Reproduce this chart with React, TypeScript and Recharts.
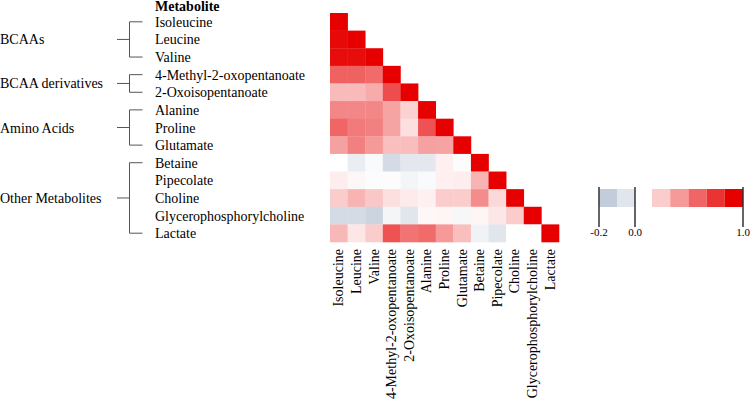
import { ScatterChart, Scatter, XAxis, YAxis } from 'recharts';

// metabolites in matrix order
const metabolites = [
  'Isoleucine', 'Leucine', 'Valine', '4-Methyl-2-oxopentanoate', '2-Oxoisopentanoate',
  'Alanine', 'Proline', 'Glutamate', 'Betaine', 'Pipecolate', 'Choline',
  'Glycerophosphorylcholine', 'Lactate',
];

const groups = [
  { name: 'BCAAs', from: 0, to: 2 },
  { name: 'BCAA derivatives', from: 3, to: 4 },
  { name: 'Amino Acids', from: 5, to: 7 },
  { name: 'Other Metabolites', from: 8, to: 12 },
];

// lower triangle of the correlation matrix, row by row
const corr = [
  [1],
  [0.97, 1],
  [0.95, 0.95, 1],
  [0.62, 0.62, 0.58, 1],
  [0.27, 0.27, 0.33, 0.7, 1],
  [0.47, 0.47, 0.47, 0.36, 0.18, 1],
  [0.6, 0.52, 0.5, 0.36, 0.12, 0.68, 1],
  [0.37, 0.5, 0.4, 0.25, 0.26, 0.37, 0.36, 1],
  [0.0, -0.07, -0.02, -0.14, -0.09, -0.09, 0.06, -0.01, 1],
  [0.07, 0.03, -0.01, -0.01, -0.04, -0.02, 0.06, 0.07, 0.3, 1],
  [0.2, 0.3, 0.22, 0.12, 0.08, 0.06, 0.2, 0.2, 0.45, 0.15, 1],
  [-0.14, -0.14, -0.17, -0.04, -0.1, 0.03, 0.04, -0.03, 0.04, 0.1, 0.2, 1],
  [0.28, 0.1, 0.2, 0.68, 0.55, 0.58, 0.4, 0.25, -0.05, -0.1, 0.0, 0.0, 1],
];

const negLegend = [-0.2, -0.1];
const posLegend = [0.2, 0.4, 0.6, 0.8, 1.0];

const N = metabolites.length;
const PLOT_LEFT = 330;
const PLOT_RIGHT = 559;
const PLOT_TOP = 13;
const PLOT_BOTTOM = 242;
const CELL_W = (PLOT_RIGHT - PLOT_LEFT) / N;
const CELL_H = (PLOT_BOTTOM - PLOT_TOP) / N;
const FONT = '"Liberation Serif", "Times New Roman", serif';
const FS = 14;

const colorFor = (v: number) => {
  let r: number, g: number, b: number;
  if (v >= 0) {
    const t = Math.min(1, v);
    r = 255 + (230 - 255) * t;
    g = 255 * (1 - t);
    b = 255 * (1 - t);
  } else {
    const t = Math.min(1, -v / 0.2);
    r = 255 + (195 - 255) * t;
    g = 255 + (204 - 255) * t;
    b = 255 + (217 - 255) * t;
  }
  return `rgb(${Math.round(r)},${Math.round(g)},${Math.round(b)})`;
};

const cells = corr.flatMap((row, i) =>
  row.map((v, j) => ({ x: j + 0.5, y: i + 0.5, v }))
);

const ticks = metabolites.map((_, i) => i + 0.5);

const CellShape = (props: any) => {
  const { cx, cy, payload } = props;
  return (
    <rect
      x={cx - CELL_W / 2}
      y={cy - CELL_H / 2}
      width={CELL_W + 0.3}
      height={CELL_H + 0.3}
      fill={colorFor(payload.v)}
    />
  );
};

const YTick = (props: any) => {
  const { y, payload } = props;
  return (
    <text x={155} y={y} dy={5} textAnchor="start" fontSize={FS} fontFamily={FONT} fill="#000">
      {metabolites[Math.floor(payload.value)]}
    </text>
  );
};

const XTick = (props: any) => {
  const { x, payload } = props;
  const ty = 249;
  const tx = x + 4.5;
  return (
    <text
      x={tx}
      y={ty}
      textAnchor="end"
      fontSize={FS}
      fontFamily={FONT}
      fill="#000"
      transform={`rotate(-90, ${tx}, ${ty})`}
    >
      {metabolites[Math.floor(payload.value)]}
    </text>
  );
};

const rowY = (i: number) => PLOT_TOP + (i + 0.5) * CELL_H;

function Overlay() {
  return (
    <svg width={750} height={401} style={{ position: 'absolute', left: 0, top: 0, pointerEvents: 'none' }}>
      <text x={155} y={11} fontSize={FS} fontWeight="bold" fontFamily={FONT}>Metabolite</text>
      {groups.map((g) => {
        const y1 = rowY(g.from);
        const y2 = rowY(g.to);
        const ym = (y1 + y2) / 2;
        return (
          <g key={g.name} stroke="#555" strokeWidth={1} fill="none">
            <path d={`M142.5,${y1}H129.5V${y2}H142.5M117,${ym}H129.5`} />
            <text x={0} y={ym} dy={5} fontSize={FS} fontFamily={FONT} fill="#000" stroke="none">
              {g.name}
            </text>
          </g>
        );
      })}
      {/* colour legend */}
      {negLegend.map((v, i) => (
        <rect key={v} x={599 + i * 18} y={189} width={18} height={18} fill={colorFor(v)} />
      ))}
      {posLegend.map((v, i) => (
        <rect key={v} x={652 + i * 18.2} y={189} width={18.2} height={18} fill={colorFor(v)} />
      ))}
      {[
        { x: 599, label: '-0.2' },
        { x: 635, label: '0.0' },
        { x: 743, label: '1.0' },
      ].map((t) => (
        <g key={t.label}>
          <line x1={t.x} x2={t.x} y1={187} y2={227} stroke="#333" strokeWidth={1.5} />
          <text x={t.x} y={236} textAnchor="middle" fontSize={11} fontFamily={FONT}>{t.label}</text>
        </g>
      ))}
    </svg>
  );
}

export default function App() {
  return (
    <div style={{ position: 'relative', width: 750, height: 401, background: '#fff' }}>
      <style>{'body{margin:0}'}</style>
      <ScatterChart width={750} height={401} margin={{ top: PLOT_TOP, right: 750 - PLOT_RIGHT, bottom: 0, left: 0 }}>
        <XAxis
          type="number"
          dataKey="x"
          domain={[0, N]}
          ticks={ticks}
          interval={0}
          height={401 - PLOT_BOTTOM}
          axisLine={false}
          tickLine={false}
          tick={<XTick />}
        />
        <YAxis
          type="number"
          dataKey="y"
          domain={[0, N]}
          reversed
          ticks={ticks}
          interval={0}
          width={PLOT_LEFT}
          axisLine={false}
          tickLine={false}
          tick={<YTick />}
        />
        <Scatter data={cells} shape={<CellShape />} isAnimationActive={false} />
      </ScatterChart>
      <Overlay />
    </div>
  );
}
